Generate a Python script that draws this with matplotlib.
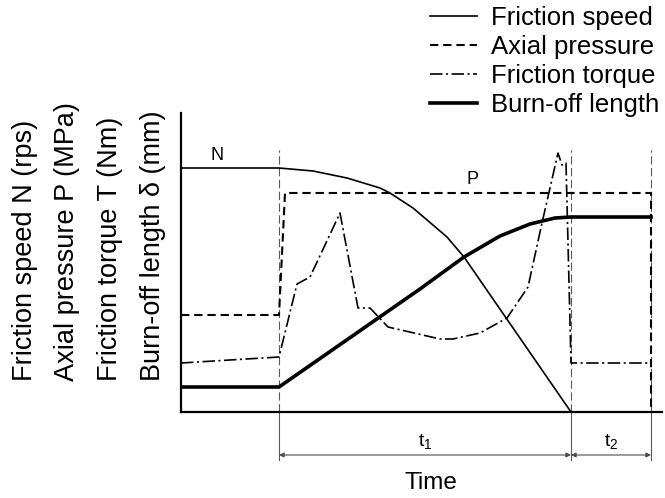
import matplotlib.pyplot as plt

plt.rcParams['font.family'] = ['Liberation Sans', 'DejaVu Sans']
plt.rcParams['mathtext.fontset'] = 'custom'
plt.rcParams['mathtext.rm'] = 'Liberation Sans'
plt.rcParams['mathtext.it'] = 'Liberation Sans'
plt.rcParams['lines.scale_dashes'] = False

# time axis (arbitrary units) and the stage boundaries
t_start = 98
t_1_end = 390
t_2_end = 470

# friction speed N
n_time = [0, 98, 132, 166, 199, 209, 232, 266, 283, 390]
n_vals = [244, 244, 241, 234, 224, 219, 204, 175, 155, 0]

# axial pressure P
p_time = [0, 98, 104, 470, 470]
p_vals = [97, 97, 219, 219, 0]

# friction torque T
t_time = [0, 98, 116, 129, 159, 177, 189, 207, 259, 272, 299, 326, 347, 361,
          377, 381, 385, 390, 470]
t_vals = [49, 55, 128, 135, 199, 104, 104, 85, 73, 73, 79, 94, 125, 189,
          259, 247, 249, 49, 49]

# burn-off length delta
d_time = [0, 98, 239, 283, 319, 349, 374, 390, 470]
d_vals = [25, 25, 123, 155, 176, 188, 194, 195, 195]

W, H = 665, 498
fig = plt.figure(figsize=(W / 100, H / 100), dpi=100)
ax = fig.add_axes([181 / W, (H - 412) / H, (662 - 181) / W, (412 - 113) / H])
ax.set_xlim(0, 481)
ax.set_ylim(0, 299)
for s in ['top', 'right']:
    ax.spines[s].set_visible(False)
for s in ['left', 'bottom']:
    ax.spines[s].set_linewidth(1.6)
ax.set_xticks([])
ax.set_yticks([])

# stage boundary guides
for xv in [t_start, t_1_end, t_2_end]:
    ax.plot([xv, xv], [0, 262], color='0.35', lw=0.8, dashes=(6, 2.5))
    ax.plot([xv, xv], [0, -48], color='0.35', lw=0.8, clip_on=False)

ax.plot(n_time, n_vals, color='black', lw=1.2, label='Friction speed')
ax.plot(p_time, p_vals, color='black', lw=1.5, dashes=(6, 3.5),
        label='Axial pressure')
ax.plot(t_time, t_vals, color='black', lw=1.2, dashes=(9, 2.5, 1.5, 2.5),
        label='Friction torque')
ax.plot(d_time, d_vals, color='black', lw=2.6, label='Burn-off length')

ax.text(36, 257, 'N', fontsize=13, ha='center', va='center')
ax.text(292, 233, 'P', fontsize=13, ha='center', va='center')

# stage duration dimensions
arrow_y = -43
for a, b, lab in [(t_start, t_1_end, r'$\mathrm{t_1}$'),
                  (t_1_end, t_2_end, r'$\mathrm{t_2}$')]:
    ax.annotate('', xy=(a, arrow_y), xytext=(b, arrow_y),
                arrowprops=dict(arrowstyle='<|-|>', color='0.3', lw=0.8,
                                mutation_scale=7, shrinkA=0, shrinkB=0),
                annotation_clip=False)
    ax.text((a + b) / 2, arrow_y + 4, lab, fontsize=14, ha='center',
            va='bottom')

ax.text(250, -71, 'Time', fontsize=17.5, ha='center', va='center')

ylabels = ['Friction speed N (rps)', 'Axial pressure P (MPa)',
           'Friction torque T (Nm)', 'Burn-off length δ (mm)']
for i, lab in enumerate(ylabels):
    fig.text((25 + 42.5 * i) / W, (H - 381) / H, lab, fontsize=19.5,
             rotation=90, ha='center', va='bottom')

fig.legend(loc='upper right', bbox_to_anchor=(659 / W, 1 - 6 / H),
           frameon=False, fontsize=18.5, handlelength=1.8,
           handletextpad=0.55, labelspacing=0.19, borderpad=0,
           borderaxespad=0)

fig.savefig('out.png', dpi=100)
